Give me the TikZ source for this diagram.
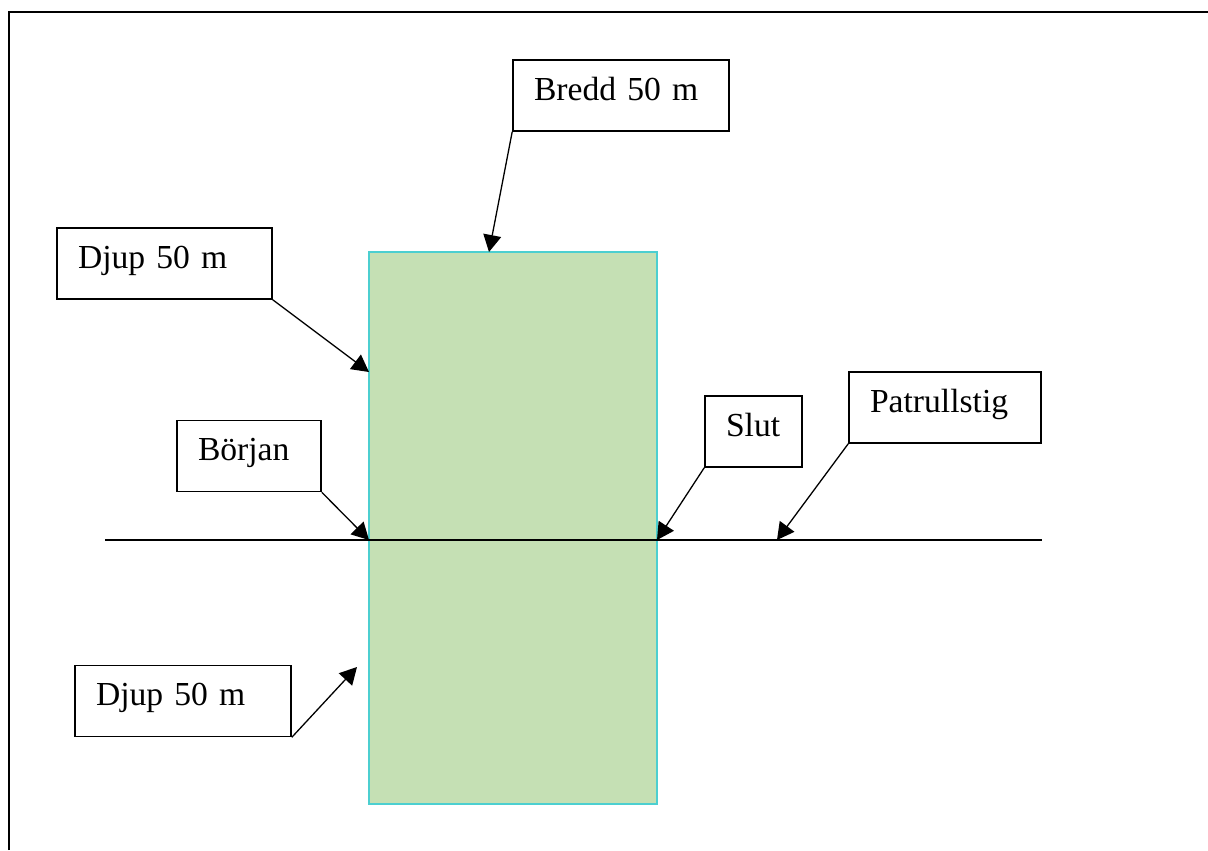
\documentclass[tikz,border=0pt]{standalone}
\usepackage{fontspec}
\setmainfont{Liberation Serif}
\usetikzlibrary{arrows.meta}
\definecolor{fieldgreen}{RGB}{197,224,180}
\definecolor{fieldedge}{RGB}{76,207,208}
\begin{document}
\begin{tikzpicture}[x=.5pt, y=-.5pt, font=\fontsize{16.8}{20}\selectfont,
	labelbox/.style={draw, line width=.8pt, inner xsep=10.5pt, inner ysep=0pt,
		minimum height=35.5pt, align=left, text height=.8em, text depth=.33em},
	pointer/.style={-{Triangle[length=8.5pt,width=9pt]}, line width=.65pt}]
	\useasboundingbox (0,0) rectangle (1208,850);
	%frame
	\draw[line width=1.4pt] (9,850) -- (9,12) -- (1208,12);
	%area
	\draw[fill=fieldgreen, draw=fieldedge, line width=1pt] (369,252) rectangle (657,804);
	%path
	\draw[line width=.7pt] (105,540) -- (1042,540);
	%boxes
	\node[labelbox, text width=86.5pt] (djup top) at (164.5,263.5) {Djup 50 m};
	\node[labelbox, text width=87pt] (bredd) at (621,95.5) {Bredd 50 m};
	\node[labelbox, text width=51pt] (borjan) at (249,456) {Början};
	\node[labelbox, text width=27.5pt] (slut) at (753.5,431.5) {Slut};
	\node[labelbox, text width=75pt] (patrull) at (945,407.5) {Patrullstig};
	\node[labelbox, text width=87pt] (djup bottom) at (183,701) {Djup 50 m};
	%targets
	\coordinate (bredd end) at (489,252);
	\coordinate (djup top end) at (369,372);
	\coordinate (borjan end) at (369,540);
	\coordinate (slut end) at (657,540);
	\coordinate (patrull end) at (777,540);
	\coordinate (djup bottom end) at (357,667);
	%arrows
	\draw[pointer] (bredd.south west) -- (bredd end);
	\draw[pointer] (djup top.south east) -- (djup top end);
	\draw[pointer] (borjan.south east) -- (borjan end);
	\draw[pointer] (slut.south west) -- (slut end);
	\draw[pointer] (patrull.south west) -- (patrull end);
	\draw[pointer] (djup bottom.south east) -- (djup bottom end);
\end{tikzpicture}
\end{document}
